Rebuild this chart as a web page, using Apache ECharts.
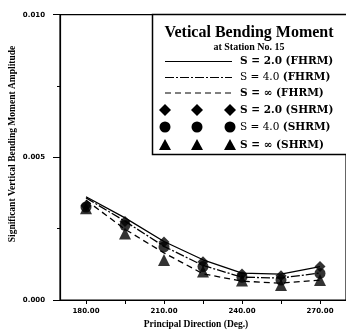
<!DOCTYPE html>
<html>
<head>
<meta charset="utf-8">
<script src="https://cdn.jsdelivr.net/npm/echarts@6/dist/echarts.min.js"></script>
<style>html,body{margin:0;padding:0;background:#fff}#c{width:346px;height:334px}</style>
</head>
<body>
<div id="c"></div>
<script>
const directions = [180, 195, 210, 225, 240, 255, 270];
const fhrmS2   = [0.00362, 0.00288, 0.00205, 0.00141, 0.00094, 0.00091, 0.00117];
const fhrmS4   = [0.00358, 0.00276, 0.00188, 0.00121, 0.00080, 0.00077, 0.00095];
const fhrmSinf = [0.00350, 0.00248, 0.00165, 0.00092, 0.00066, 0.00059, 0.00070];
const shrmS2   = [0.00330, 0.00275, 0.00203, 0.00134, 0.00091, 0.00085, 0.00117];
const shrmS4   = [0.00326, 0.00262, 0.00186, 0.00117, 0.00080, 0.00070, 0.00093];
const shrmSinf = [0.00322, 0.00233, 0.00140, 0.00100, 0.00068, 0.00053, 0.00070];
const xLabelValues = [180, 210, 240, 270];
const xTickValues = [180, 195, 210, 225, 240, 255, 270];
const yTickLabels = ['0.000', '0.005', '0.010'];

const pair = arr => directions.map((d, i) => [d, arr[i]]);
const serif = 'Liberation Serif';
const wideSerif = 'DejaVu Serif';

const chart = echarts.init(document.getElementById('c'), null, {renderer: 'canvas'});

const rows = [61.5, 77.5, 93, 110, 127, 145];
const legendTexts = [
  '{b|S = 2.0 (FHRM)}',
  '{n|S = 4.0} {b|(FHRM)}',
  '{b|S = \u221E (FHRM)}',
  '{b|S = 2.0 (SHRM)}',
  '{n|S = 4.0} {b|(SHRM)}',
  '{b|S = \u221E (SHRM)}'
];
const rich = {
  b: {fontFamily: wideSerif, fontWeight: 'bold', fontSize: 10.5, fill: '#000'},
  n: {fontFamily: wideSerif, fontWeight: 'normal', fontSize: 10.5, fill: '#000'}
};
const graphics = [
  {type: 'rect', z: 100, shape: {x: 152.5, y: 14.5, width: 200, height: 140},
   style: {fill: '#fff', stroke: '#000', lineWidth: 1.5}},
  {type: 'text', z: 101, x: 249, y: 33,
   style: {text: 'Vetical Bending Moment', fontFamily: serif, fontWeight: 'bold', fontSize: 16, fill: '#000', align: 'center', verticalAlign: 'middle'}},
  {type: 'text', z: 101, x: 249, y: 47,
   style: {text: 'at Station No. 15', fontFamily: serif, fontWeight: 'bold', fontSize: 10, fill: '#000', align: 'center', verticalAlign: 'middle'}},
  {type: 'line', z: 101, shape: {x1: 165, y1: rows[0], x2: 232, y2: rows[0]}, style: {stroke: '#000', lineWidth: 1.2}},
  {type: 'line', z: 101, shape: {x1: 165, y1: rows[1], x2: 232, y2: rows[1]}, style: {stroke: '#000', lineWidth: 1.2, lineDash: [9, 2, 2, 2]}},
  {type: 'line', z: 101, shape: {x1: 165, y1: rows[2], x2: 232, y2: rows[2]}, style: {stroke: '#000', lineWidth: 1.2, lineDash: [6, 4]}}
];
[165, 197, 230].forEach(cx => {
  graphics.push({type: 'polygon', z: 101, shape: {points: [[cx, rows[3]-6], [cx+6, rows[3]], [cx, rows[3]+6], [cx-6, rows[3]]]}, style: {fill: '#000'}});
  graphics.push({type: 'circle', z: 101, shape: {cx: cx, cy: rows[4], r: 5.5}, style: {fill: '#000'}});
  graphics.push({type: 'polygon', z: 101, shape: {points: [[cx, rows[5]-6], [cx+6, rows[5]+5], [cx-6, rows[5]+5]]}, style: {fill: '#000'}});
});
legendTexts.forEach((t, i) => {
  graphics.push({type: 'text', z: 101, x: 240, y: rows[i],
    style: {text: t, rich: rich, verticalAlign: 'middle', align: 'left'}});
});
graphics.push({type: 'text', x: 13, y: 144, rotation: Math.PI / 2,
  style: {text: 'Significant Vertical Bending Moment Amplitude', fontFamily: serif, fontWeight: 'bold', fontSize: 9.5, fill: '#000', align: 'center', verticalAlign: 'middle'}});
graphics.push({type: 'text', x: 196, y: 325,
  style: {text: 'Principal Direction (Deg.)', fontFamily: serif, fontWeight: 'bold', fontSize: 9.5, fill: '#000', align: 'center', verticalAlign: 'middle'}});

const markerSeries = (data, symbol, size) => ({
  type: 'scatter', data: pair(data), symbol: symbol, symbolSize: size,
  itemStyle: {color: '#000'}, z: 5, silent: true
});
const lineSeries = (data, type) => ({
  type: 'line', data: pair(data), symbol: 'none', z: 4, silent: true,
  lineStyle: {color: '#000', width: 1.3, type: type}
});

chart.setOption({
  animation: false,
  backgroundColor: '#fff',
  grid: {left: 60, top: 14.7, right: -3.6, bottom: 34, show: true, borderColor: '#000', borderWidth: 1.2},
  xAxis: {
    type: 'value', min: 170, max: 280,
    splitLine: {show: false},
    axisLine: {show: true, lineStyle: {color: '#000', width: 1.2}},
    axisTick: {show: true, length: 4, customValues: xTickValues, lineStyle: {color: '#000'}},
    axisLabel: {customValues: xLabelValues, formatter: v => v.toFixed(2), margin: 8,
      fontFamily: 'DejaVu Sans', fontWeight: 'bold', fontSize: 7, color: '#000'}
  },
  yAxis: {
    type: 'value', min: 0, max: 0.010, interval: 0.005,
    splitLine: {show: false},
    axisLine: {show: true, lineStyle: {color: '#000', width: 1.2}},
    axisTick: {show: true, length: 7, lineStyle: {color: '#000'}},
    minorTick: {show: true, splitNumber: 2, length: 3, lineStyle: {color: '#000'}},
    axisLabel: {formatter: (v, i) => yTickLabels[i], margin: 15,
      fontFamily: 'DejaVu Sans', fontWeight: 'bold', fontSize: 7, color: '#000'}
  },
  series: [
    lineSeries(fhrmS2, 'solid'),
    lineSeries(fhrmS4, [9, 2, 2, 2]),
    lineSeries(fhrmSinf, [6, 4]),
    markerSeries(shrmSinf, 'triangle', 12),
    markerSeries(shrmS4, 'circle', 11),
    markerSeries(shrmS2, 'diamond', 11)
  ],
  graphic: graphics
});
</script>
</body>
</html>
